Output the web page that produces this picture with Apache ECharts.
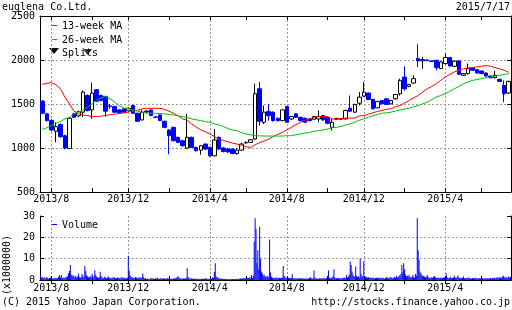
<!DOCTYPE html>
<html><head><meta charset="utf-8">
<script src="https://cdn.jsdelivr.net/npm/echarts@6/dist/echarts.min.js"></script>
<style>html,body{margin:0;padding:0;background:#fff}#c{width:512px;height:310px}</style>
</head><body><div id="c"></div><script>
const FONT = 'DejaVu Sans Mono';
// weekly candles, first week starts Mon 2013-07-22
const firstWeek = '2013-07-22';
const openP  = [1532,1388,1312,1190,1266,1140,995,1388,1365,1407,1597,1433,1662,1597,1585,1478,1472,1433,1445,1422,
                1483,1395,1319,1410,1433,1352,1376,1304,1205,1235,1121,1083,999,1121,1007,976,1045,1007,911,1121,
                1000,990,988,938,976,1058,1064,1102,1673,1292,1414,1407,1338,1311,1471,1330,1388,1349,1338,1330,
                1327,1330,1368,1349,1235,1328,1332,1330,1452,1407,1509,1589,1624,1551,1456,1540,1559,1502,1559,1616,
                1806,1700,1738,2016,1990,1999,1988,1997,1902,1959,2028,1928,1990,1826,1845,1913,1890,1875,1852,1818,
                1799,1780,1711,1624];
const closeP = [1395,1312,1205,1243,1129,999,1338,1350,1411,1635,1426,1624,1532,1540,1418,1472,1407,1403,1407,1452,
                1395,1304,1407,1420,1369,1348,1312,1235,1140,1083,1064,1026,1121,1007,969,1026,988,911,1091,988,
                960,955,938,976,1045,1064,1094,1616,1304,1407,1368,1311,1311,1433,1292,1357,1349,1311,1292,1311,
                1357,1357,1319,1281,1292,1335,1328,1426,1418,1494,1578,1635,1551,1445,1528,1502,1494,1540,1608,1768,
                1673,1720,1788,1990,2005,1995,1984,1913,1978,2028,1932,1986,1837,1845,1902,1883,1852,1845,1818,1799,
                1826,1757,1616,1757];
const lowP   = [1385,1300,1190,1064,1115,985,990,1340,1350,1350,1415,1331,1520,1530,1357,1445,1400,1395,1400,1415,
                1390,1295,1312,1400,1360,1340,1305,1225,930,1075,1055,1015,988,1000,960,923,980,900,905,980,
                950,945,930,923,970,1050,1058,1090,1254,1273,1311,1300,1300,1305,1285,1320,1340,1300,1285,1300,
                1320,1292,1310,1270,1197,1320,1320,1325,1410,1400,1483,1580,1545,1440,1450,1495,1488,1495,1550,1597,
                1654,1690,1730,1921,1902,1985,1975,1883,1895,1950,1925,1920,1830,1820,1835,1875,1845,1840,1810,1790,
                1790,1750,1521,1615];
const highP  = [1545,1400,1330,1292,1280,1150,1350,1400,1426,1654,1610,1742,1670,1605,1595,1502,1480,1440,1450,1460,
                1490,1400,1433,1430,1440,1360,1380,1310,1215,1240,1130,1090,1388,1130,1015,1035,1050,1015,1216,1130,
                1010,1000,995,999,1060,1075,1100,1730,1749,1483,1502,1415,1345,1440,1480,1365,1395,1355,1345,1340,
                1365,1426,1375,1355,1330,1345,1340,1435,1597,1505,1635,1749,1630,1560,1535,1545,1565,1548,1615,1788,
                1928,1730,1826,2180,2035,2010,1995,2000,1985,2073,2035,1995,1995,1850,1959,1920,1895,1880,1860,1825,
                1875,1790,1768,1765];
const ma13 = [1723,1735,1742,1720,1673,1578,1502,1418,1388,1375,1369,1357,1357,1362,1369,1378,1385,1392,1398,1408,
              1418,1430,1445,1450,1452,1452,1450,1440,1418,1395,1365,1330,1315,1273,1240,1205,1185,1159,1130,1100,
              1085,1071,1055,1045,1030,1014,1006,1037,1060,1080,1100,1130,1155,1178,1205,1235,1265,1292,1315,1330,
              1350,1357,1357,1357,1330,1330,1335,1340,1340,1340,1365,1368,1385,1400,1415,1426,1440,1445,1470,1483,
              1510,1540,1570,1597,1635,1673,1700,1730,1770,1807,1835,1864,1885,1900,1909,1915,1921,1930,1936,1930,
              1913,1900,1883,1860];
const ma26 = [1210,1230,1255,1280,1300,1331,1345,1388,1410,1433,1465,1502,1540,1570,1586,1560,1521,1480,1456,1445,
              1430,1418,1410,1395,1395,1395,1392,1388,1380,1376,1365,1357,1345,1330,1320,1312,1300,1292,1275,1262,
              1245,1220,1205,1197,1175,1159,1150,1140,1138,1136,1136,1136,1136,1136,1140,1140,1150,1159,1170,1178,
              1190,1197,1205,1216,1230,1235,1245,1262,1275,1292,1315,1330,1350,1368,1380,1395,1400,1407,1420,1433,
              1443,1452,1468,1483,1502,1521,1550,1578,1597,1616,1645,1673,1700,1730,1750,1768,1778,1788,1798,1807,
              1817,1826,1835,1845];
const splitWeeks = [10];
const splitMarkLevel = [2090];
// daily volume (x1,000,000), 5 trading-day slots per week
const volume = [
 2.2,1.0,1.4,0.8,1.2, 1.0,0.7,1.3,1.1,0.6, 0.9,1.2,0.7,0.6,1.0, 0.8,0.6,1.1,0.7,0.9,
 1.5,2.2,1.2,2.3,1.0, 1.2,0.8,0.9,1.5,1.3, 1.8,3.2,4.2,7.0,2.5, 1.6,2.4,1.8,1.3,2.0,
 1.2,1.6,3.0,1.4,1.1, 1.5,2.8,1.3,1.8,6.6, 4.3,2.2,1.6,1.2,1.4, 1.8,1.0,2.9,1.7,1.1,
 4.6,2.5,1.6,1.2,0.9, 1.3,3.9,2.0,1.1,1.0, 0.9,1.5,1.2,0.8,1.0, 1.6,1.1,0.9,0.7,1.2,
 0.8,1.4,1.0,0.9,0.7, 1.3,0.8,1.1,0.6,1.4, 0.9,1.2,0.8,1.0,0.7, 0.8,1.1,11.4,4.4,2.1,
 1.5,1.0,1.3,0.9,0.8, 1.4,1.2,0.7,1.0,1.3, 0.9,1.2,1.0,3.1,1.4, 0.6,0.8,0.5,0.7,0.4,
 0.3,0.8,0.9,0.6,0.7, 0.7,0.5,0.8,0.6,1.0, 0.8,0.6,0.5,0.9,0.7, 0.6,0.8,0.7,0.5,0.6,
 0.9,0.7,0.8,0.6,0.5, 0.7,0.5,0.6,0.8,0.7, 0.9,1.4,1.7,1.1,0.8, 0.7,0.6,0.5,0.8,0.6,
 0.7,0.9,5.5,1.5,0.9, 0.7,0.6,0.8,0.5,0.6, 0.6,0.5,0.7,0.6,0.4, 0.5,0.7,0.4,0.6,0.5,
 0.6,0.5,0.7,0.8,0.5, 0.6,0.4,0.5,0.6,0.7, 1.2,0.9,3.8,7.9,1.6, 1.0,1.2,0.8,0.7,0.6,
 0.5,0.6,0.4,0.5,0.6, 0.4,0.5,0.3,0.4,0.5, 0.3,0.4,0.5,0.3,0.4, 0.5,0.6,0.4,0.7,0.5,
 0.6,0.8,0.5,0.7,0.9, 0.6,1.0,0.7,1.2,0.8, 0.9,1.4,0.7,2.4,1.0, 2.0,18.0,29.0,24.0,8.0,
 14.0,5.0,25.0,10.0,4.0, 3.0,2.0,2.5,1.5,1.8, 1.4,2.0,1.2,19.0,3.5, 1.5,1.0,1.2,0.8,1.0,
 0.9,1.3,0.7,0.8,1.0, 0.8,0.9,1.2,6.6,2.0, 1.5,0.8,1.0,0.7,1.1, 0.9,0.7,1.0,2.7,0.8,
 0.7,0.9,0.6,0.8,0.7, 0.6,0.8,0.7,0.6,0.9, 0.7,0.6,0.8,0.5,0.7, 0.6,0.7,0.9,1.3,0.8,
 0.7,0.8,4.4,1.2,0.8, 0.6,0.7,0.5,0.8,0.6, 0.9,0.7,0.6,1.1,0.8, 0.7,0.9,1.0,4.4,1.1,
 0.8,0.9,1.3,1.6,5.0, 1.2,0.8,0.9,0.7,1.0, 0.6,0.8,0.7,0.9,1.0, 1.0,1.2,0.8,2.4,1.3,
 1.5,2.6,8.7,7.0,4.0, 2.5,1.8,1.5,6.3,2.0, 1.4,1.8,1.2,10.0,2.8, 1.9,1.5,8.7,1.2,1.6,
 1.3,1.1,1.4,0.9,1.0, 1.2,0.8,1.0,1.1,0.7, 0.9,1.0,0.8,1.2,0.9, 0.8,1.1,0.9,0.7,1.0,
 0.6,0.9,1.3,1.0,0.8, 0.9,1.4,1.0,1.2,0.8, 1.1,1.5,0.9,2.0,1.3, 1.4,2.2,1.6,2.8,7.0,
 3.5,7.9,5.0,2.6,1.8, 2.0,1.6,2.5,1.4,1.2, 1.3,2.4,1.5,1.0,2.8, 2.0,29.0,14.0,9.5,4.0,
 3.2,2.5,1.8,2.0,1.5, 1.2,1.6,2.3,1.4,1.0, 1.1,0.9,1.3,1.0,1.5, 1.8,1.2,1.0,0.9,1.1,
 1.0,0.8,1.2,1.1,0.9, 1.0,1.3,0.9,3.0,1.4, 1.1,0.9,1.0,1.5,0.8, 0.9,1.2,2.0,1.0,0.8,
 1.4,2.1,1.1,0.9,1.0, 0.8,1.0,1.6,0.9,0.7, 0.9,0.8,1.2,1.0,0.7, 0.8,0.6,0.9,0.7,1.0,
 0.7,0.9,0.8,0.6,0.8, 0.9,0.7,1.1,0.8,0.6, 0.7,0.8,0.6,0.9,0.7, 0.8,0.7,1.0,0.6,0.9,
 0.7,1.2,0.8,0.9,1.3, 0.9,1.0,1.4,1.1,0.8, 1.6,2.0,1.3,1.1,1.5, 1.2,0.9,1.8,1.0,1.4
];
const monthLabels = ['2013/8','2013/12','2014/4','2014/8','2014/12','2015/4'];
const monthLabelWeeks = [2,19,37,54,71,89];
const tickWeeks = [2,11,19,28,37,45,54,63,71,80,89,97];

// categories
const weekCats = [];
{ const d0 = new Date(firstWeek + 'T00:00:00Z');
  for (let i = 0; i < openP.length; i++) { const d = new Date(d0.getTime() + i*7*86400000);
    weekCats.push(d.getUTCFullYear() + '/' + (d.getUTCMonth()+1) + '/' + d.getUTCDate()); } }
const dayCats = [];
for (let i = 0; i < weekCats.length; i++) for (let k = 0; k < 5; k++) dayCats.push(weekCats[i] + '#' + k);

const candleData = openP.map((o, i) => [o, closeP[i], lowP[i], highP[i]]);
const splitData = splitWeeks.map((w, i) => [w, splitMarkLevel[i]]);

const labelAtWeek = {}; monthLabelWeeks.forEach((w, i) => labelAtWeek[w] = monthLabels[i]);
const isLabelWeek = i => labelAtWeek[i] !== undefined;
const isTickWeek = i => tickWeeks.indexOf(i) >= 0;
const slotWeek = i => (i % 5 === 2) ? Math.floor(i / 5) : -1;

const txt = {fontFamily: FONT, fontSize: 10, color: '#000'};
const grid = {color: '#999', type: [2, 2], width: 1};

function xAx(gridIndex, data, pos, labels, isDay) {
  const lab = isDay ? (i => isLabelWeek(slotWeek(i))) : isLabelWeek;
  const tk = isDay ? (i => isTickWeek(slotWeek(i))) : isTickWeek;
  return {
    type: 'category', gridIndex, data, position: pos, boundaryGap: true,
    axisLine: {show: true, lineStyle: {color: '#000', width: 1}},
    axisTick: {show: true, inside: true, length: 4, alignWithLabel: true, interval: (i) => tk(i), lineStyle: {color: '#000'}},
    axisLabel: {show: labels, interval: (i) => lab(i), ...txt, margin: isDay ? 3 : 2,
      formatter: (v, i) => isDay ? (labelAtWeek[slotWeek(i)] || '') : (labelAtWeek[i] || '')},
    splitLine: {show: pos === 'bottom', alignWithLabel: true, interval: (i) => lab(i), lineStyle: grid}
  };
}
function yAx(gridIndex, min, max, interval, pos, labels) {
  return {
    type: 'value', gridIndex, min, max, interval, position: pos,
    axisLine: {show: true, lineStyle: {color: '#000', width: 1}},
    axisTick: {show: true, inside: true, length: 4, lineStyle: {color: '#000'}},
    axisLabel: {show: labels, ...txt, margin: 5, formatter: (v) => String(v)},
    splitLine: {show: pos === 'left', showMinLine: false, showMaxLine: false, lineStyle: grid}
  };
}

const chart = echarts.init(document.getElementById('c'), null, {renderer: 'canvas'});
chart.setOption({
  animation: false,
  backgroundColor: '#fff',
  grid: [{left: 40, right: 1, top: 16, height: 176}, {left: 40, right: 1, top: 216, height: 64}],
  xAxis: [xAx(0, weekCats, 'bottom', true, false), xAx(0, weekCats, 'top', false, false),
          xAx(1, dayCats, 'bottom', true, true), xAx(1, dayCats, 'top', false, true)],
  yAxis: [yAx(0, 500, 2500, 500, 'left', true), yAx(0, 500, 2500, 500, 'right', false),
          yAx(1, 0, 30, 10, 'left', true), yAx(1, 0, 30, 10, 'right', false)],
  series: [
    {type: 'candlestick', name: 'price', xAxisIndex: 0, yAxisIndex: 0, data: candleData, barWidth: 4,
     itemStyle: {color: '#ffffff', color0: '#0000ff', borderColor: '#000000', borderColor0: '#0000ff', borderColorDoji: '#000000', borderWidth: 1}},
    {type: 'line', name: '13-week MA', xAxisIndex: 0, yAxisIndex: 0, data: ma13, symbol: 'none', lineStyle: {color: '#ff0000', width: 1}, z: 3},
    {type: 'line', name: '26-week MA', xAxisIndex: 0, yAxisIndex: 0, data: ma26, symbol: 'none', lineStyle: {color: '#00c000', width: 1}, z: 3},
    {type: 'scatter', name: 'Splits', xAxisIndex: 0, yAxisIndex: 0, data: splitData, symbol: 'path://M0,0L10,0L5,7Z', symbolSize: [9, 6], itemStyle: {color: '#000'}, z: 5},
    {type: 'bar', name: 'Volume', xAxisIndex: 2, yAxisIndex: 2, data: volume, barWidth: 1, itemStyle: {color: '#0000ff'}}
  ],
  graphic: [
    {type: 'text', x: 2, y: 7, style: {text: 'euglena Co.Ltd.', font: '10px ' + FONT, fill: '#000', verticalAlign: 'middle'}},
    {type: 'text', x: 510, y: 7, style: {text: '2015/7/17', font: '10px ' + FONT, fill: '#000', align: 'right', verticalAlign: 'middle'}},
    {type: 'text', x: 2, y: 302, style: {text: '(C) 2015 Yahoo Japan Corporation.', font: '10px ' + FONT, fill: '#000', verticalAlign: 'middle'}},
    {type: 'text', x: 510, y: 302, style: {text: 'http://stocks.finance.yahoo.co.jp', font: '10px ' + FONT, fill: '#000', align: 'right', verticalAlign: 'middle'}},
    {type: 'text', x: 7, y: 265, rotation: Math.PI / 2, style: {text: '(x1000000)', font: '10px ' + FONT, fill: '#000', align: 'center', verticalAlign: 'middle'}},
    {type: 'rect', shape: {x: 52, y: 25, width: 5, height: 1}, style: {fill: '#ff0000'}},
    {type: 'text', x: 62, y: 26, style: {text: '13-week MA', font: '10px ' + FONT, fill: '#000', verticalAlign: 'middle'}},
    {type: 'rect', shape: {x: 52, y: 39, width: 5, height: 1}, style: {fill: '#00c000'}},
    {type: 'text', x: 62, y: 40, style: {text: '26-week MA', font: '10px ' + FONT, fill: '#000', verticalAlign: 'middle'}},
    {type: 'polygon', shape: {points: [[49, 48], [59, 48], [54, 54]]}, style: {fill: '#000'}},
    {type: 'text', x: 62, y: 53, style: {text: 'Splits', font: '10px ' + FONT, fill: '#000', verticalAlign: 'middle'}},
    {type: 'rect', shape: {x: 52, y: 224, width: 5, height: 1}, style: {fill: '#0000ff'}},
    {type: 'text', x: 62, y: 225, style: {text: 'Volume', font: '10px ' + FONT, fill: '#000', verticalAlign: 'middle'}}
  ]
});
</script></body></html>
